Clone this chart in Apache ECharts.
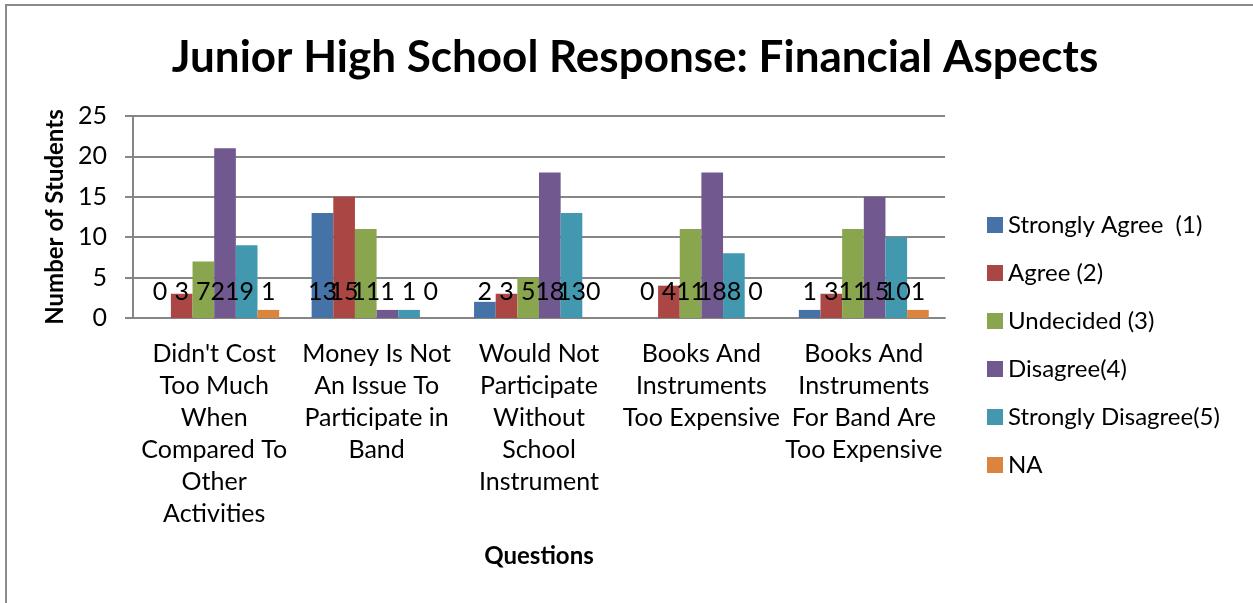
<!DOCTYPE html>
<html><head><meta charset="utf-8">
<script src="https://cdn.jsdelivr.net/npm/echarts@6/dist/echarts.min.js"></script>
<style>html,body{margin:0;padding:0;background:#fff}#c{width:1253px;height:603px}</style>
</head><body><div id="c"></div>
<script>
const categories = [
  "Didn't Cost\nToo Much\nWhen\nCompared To\nOther\nActivities",
  "Money Is Not\nAn Issue To\nParticipate in\nBand",
  "Would Not\nParticipate\nWithout\nSchool\nInstrument",
  "Books And\nInstruments\nToo Expensive",
  "Books And\nInstruments\nFor Band Are\nToo Expensive"
];
const seriesNames = ["Strongly Agree  (1)", "Agree (2)", "Undecided (3)", "Disagree(4)", "Strongly Disagree(5)", "NA"];
const stronglyAgree = [0, 13, 2, 0, 1];
const agree = [3, 15, 3, 4, 3];
const undecided = [7, 11, 5, 11, 11];
const disagree = [21, 1, 18, 18, 15];
const stronglyDisagree = [9, 1, 13, 8, 10];
const na = [1, 0, 0, 0, 1];
const yTicks = {min: 0, max: 25, interval: 5};

const colors = ["#4572A7", "#AA4643", "#89A54E", "#71588F", "#4198AF", "#DB843D"];
const values = [stronglyAgree, agree, undecided, disagree, stronglyDisagree, na];
const FONT = "Lato, 'Open Sans', sans-serif";

const chart = echarts.init(document.getElementById('c'), null, {renderer: 'canvas'});
chart.setOption({
  animation: false,
  textStyle: {fontFamily: FONT},
  color: colors,
  title: {
    text: "Junior High School Response: Financial Aspects",
    left: 630, textAlign: 'center', top: 31,
    textStyle: {fontFamily: FONT, fontWeight: 'bold', fontSize: 44, color: '#000'}
  },
  graphic: [{
    type: 'polyline', silent: true,
    shape: {points: [[6, 603], [6, 5], [1253, 5]]},
    style: {stroke: '#8a8a8a', lineWidth: 2, fill: null}
  }],
  legend: {
    orient: 'vertical', left: 982, top: 207, itemGap: 22,
    itemWidth: 16, itemHeight: 16, icon: 'rect',
    textStyle: {fontFamily: FONT, fontSize: 24, color: '#000', lineHeight: 26},
    data: seriesNames
  },
  grid: {left: 133, right: 308, top: 116, bottom: 285, containLabel: false},
  xAxis: {
    type: 'category', data: categories,
    name: 'Questions', nameLocation: 'middle', nameGap: 226,
    nameTextStyle: {fontFamily: FONT, fontWeight: 'bold', fontSize: 24, color: '#000'},
    axisLine: {lineStyle: {color: '#868686', width: 2}},
    axisTick: {show: false},
    axisLabel: {fontFamily: FONT, fontSize: 25, color: '#000', lineHeight: 32, margin: 20, interval: 0}
  },
  yAxis: {
    type: 'value', min: yTicks.min, max: yTicks.max, interval: yTicks.interval,
    name: 'Number of Students', nameLocation: 'middle', nameGap: 57, nameRotate: 90,
    nameTextStyle: {fontFamily: FONT, fontWeight: 'bold', fontSize: 24, color: '#000'},
    axisLine: {show: true, lineStyle: {color: '#868686', width: 2}},
    axisTick: {show: true, length: 8, lineStyle: {color: '#868686', width: 2}},
    axisLabel: {fontFamily: FONT, fontSize: 25, color: '#000', margin: 26},
    splitLine: {lineStyle: {color: '#868686', width: 2}}
  },
  series: seriesNames.map((n, i) => ({
    name: n, type: 'bar', data: values[i],
    barGap: '0%', barCategoryGap: '20%',
    itemStyle: {color: colors[i]},
    label: {show: true, position: 'insideBottom', distance: 14,
      fontFamily: FONT, fontSize: 25, color: '#000'}
  }))
});
</script></body></html>
